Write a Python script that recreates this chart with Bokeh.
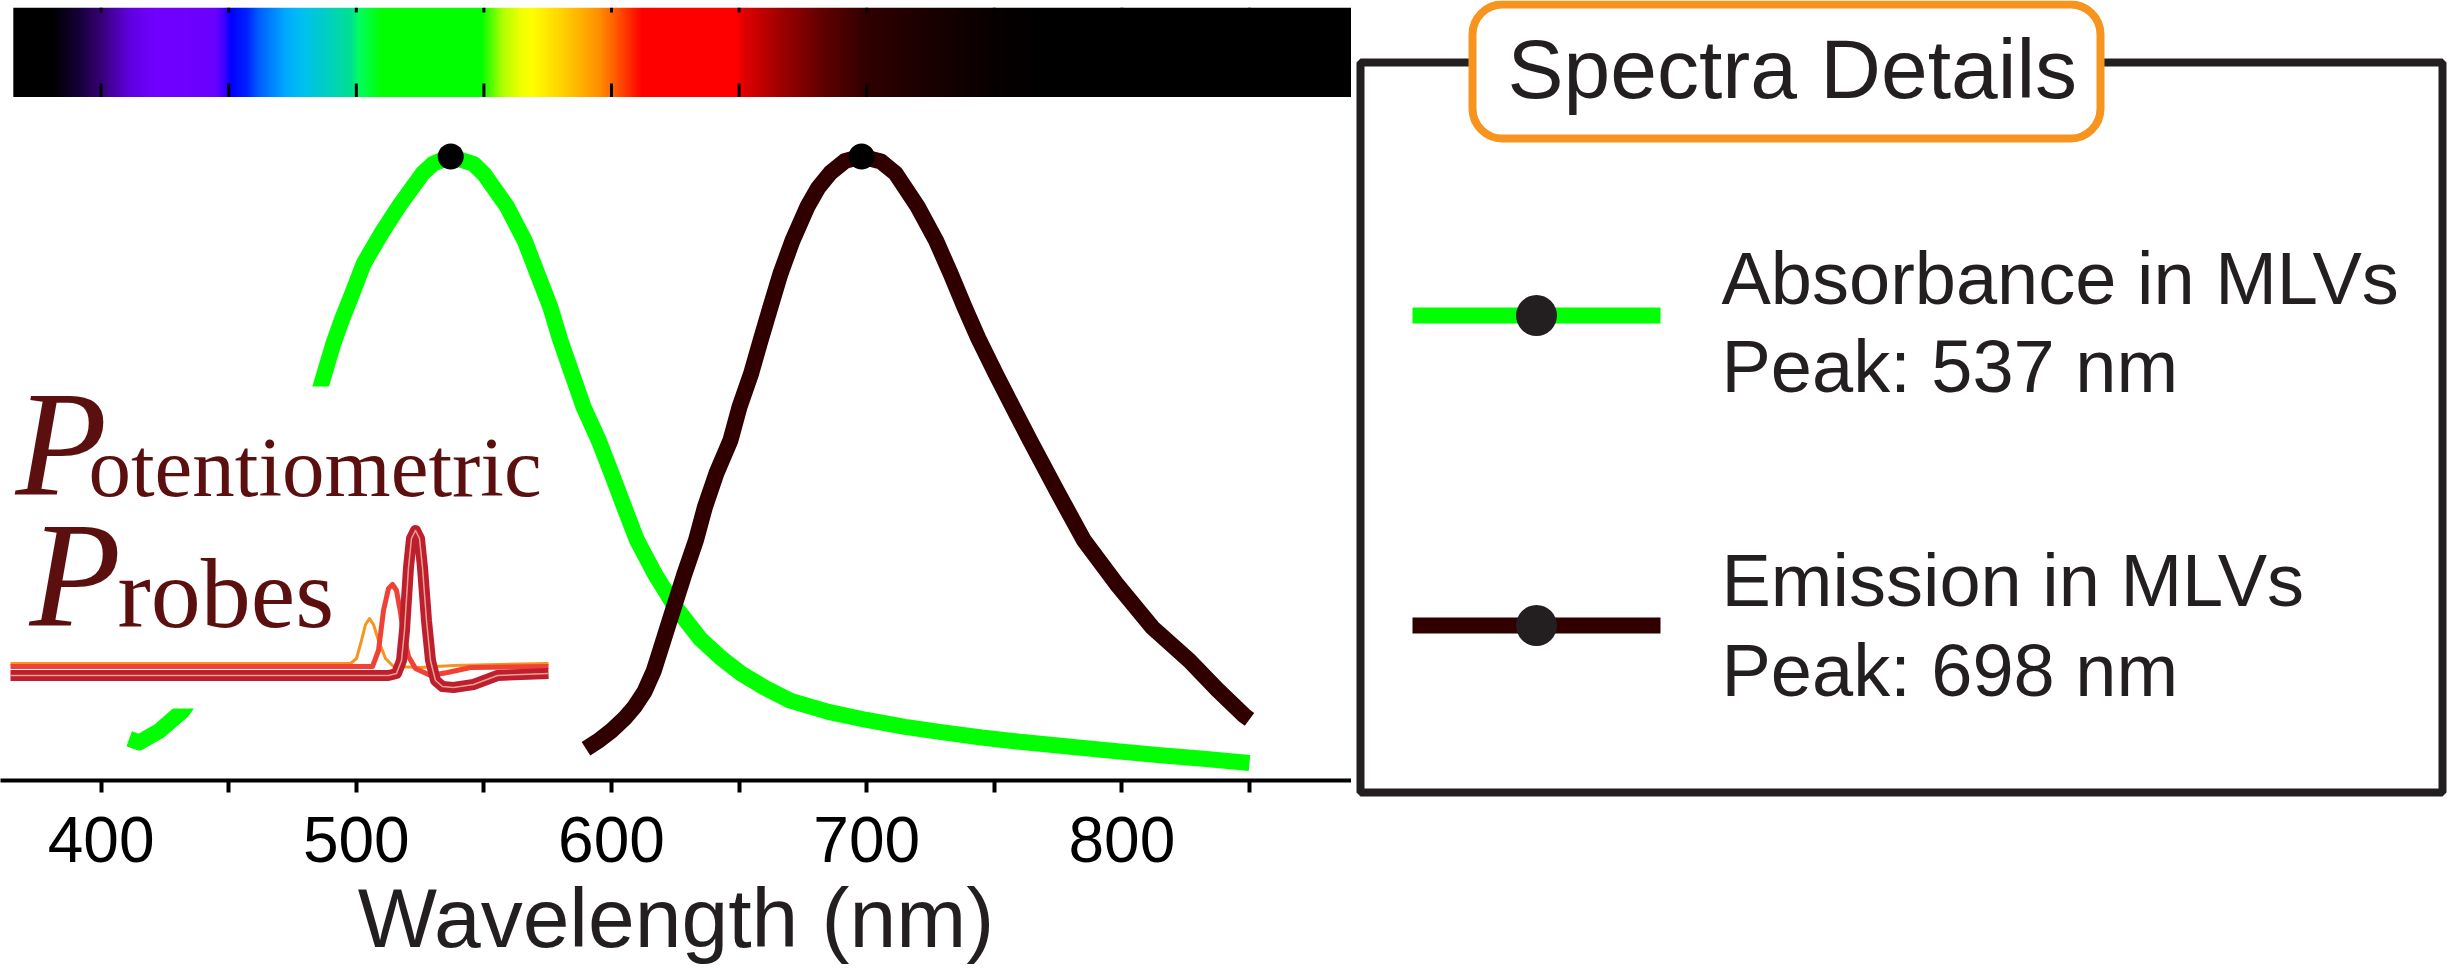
import numpy as np
from bokeh.plotting import figure
from bokeh.layouts import row, column
from bokeh.models import Range1d, FixedTicker, LinearAxis
from bokeh.core.properties import value
from bokeh.embed import file_html
from bokeh.resources import INLINE

# ---------------- data ----------------
ABS_WL = [411, 415, 423, 432, 440, 450, 460, 470, 480, 486, 491, 494.5, 498, 503, 510, 517,
          526, 530, 537, 546, 550, 559, 566, 571, 576, 580, 584.5, 589, 595, 600, 605, 610,
          617, 625, 635, 643, 651, 660, 670, 685, 700, 715, 730, 745, 760, 778, 795, 814,
          832, 850]
ABS_VAL = [0.067, 0.061, 0.080, 0.112, 0.16, 0.25, 0.35, 0.45, 0.56, 0.631, 0.700, 0.740,
           0.776, 0.829, 0.878, 0.922, 0.973, 0.988, 1.0, 0.988, 0.972, 0.920, 0.865, 0.812,
           0.759, 0.705, 0.652, 0.599, 0.545, 0.492, 0.438, 0.385, 0.331, 0.278, 0.226,
           0.196, 0.171, 0.149, 0.128, 0.110, 0.097, 0.086, 0.077, 0.069, 0.062, 0.055,
           0.048, 0.041, 0.035, 0.028]

EM_WL = [590, 595, 600, 605, 609, 613, 616.5, 619.6, 624, 628.5, 633.1, 636.6, 641.1, 646.6,
         650.2, 654.7, 658.4, 662.3, 666.2, 670.9, 676.8, 681, 685.8, 691.6, 698, 705.6,
         711.3, 719.9, 727.2, 732.9, 738.3, 743.8, 750.9, 757.8, 764, 774.4, 785.1, 797.7,
         812, 826.5, 837.3, 848, 850]
EM_VAL = [0.051, 0.064, 0.080, 0.099, 0.118, 0.143, 0.175, 0.215, 0.272, 0.330, 0.385,
          0.438, 0.492, 0.545, 0.599, 0.652, 0.705, 0.759, 0.812, 0.865, 0.920, 0.950,
          0.974, 0.993, 1.0, 0.992, 0.973, 0.920, 0.865, 0.812, 0.759, 0.708, 0.649, 0.594,
          0.545, 0.465, 0.385, 0.316, 0.245, 0.192, 0.146, 0.104, 0.098]

PEAK_WL = [537, 698]
PEAK_VAL = [1.0, 1.0]
SERIES_NAMES = ["Absorbance in MLVs", "Emission in MLVs"]
SERIES_COLORS = ["#00ff00", "#300000"]

MAJOR_TICKS = [400, 500, 600, 700, 800]
MINOR_TICKS = [450, 550, 650, 750, 850]
X_LABEL = "Wavelength (nm)"
TITLE = "Spectra Details"

# visible-spectrum colour stops of the top bar (wavelength nm, colour)
BAR_WL = [365, 381, 391, 401, 411, 421, 445, 448, 451, 457, 462, 472, 479, 489, 498, 501,
          510, 549, 557, 564, 569, 581, 595, 601, 608, 612, 649, 652, 666, 683, 700, 724,
          749, 768, 891]
BAR_COL = ["#000000", "#000000", "#150035", "#3a0080", "#6000e0", "#7000ff", "#6a00ff",
           "#4000ff", "#0000ff", "#0020ff", "#0060ff", "#00a8ff", "#00c0f0", "#00d0c0",
           "#00e090", "#00ff60", "#00ff00", "#00ff00", "#aaff00", "#eeff00", "#ffff00",
           "#ffd000", "#ff9000", "#ff6000", "#ff2000", "#ff0000", "#ff0000", "#e00000",
           "#a00000", "#600000", "#300000", "#1a0000", "#080000", "#000000", "#000000"]

# "Potentiometric Probes" logo (decoration, pixel coordinates of the logo art)
LOGO_WORDS = ["P", "otentiometric", "P", "robes"]
LOGO_ORANGE_X = [10, 350, 356, 361, 365, 369, 373, 378, 385, 393, 420, 453, 548]
LOGO_ORANGE_Y = [663, 663, 658, 640, 624, 618, 624, 640, 658, 666, 667, 665, 663]
LOGO_RED_X = [10, 372, 378, 383, 388, 392, 396, 400, 404, 408, 415, 430, 447, 470, 548]
LOGO_RED_Y = [666, 666, 650, 610, 588, 584, 590, 612, 638, 656, 668, 675, 672, 667, 666]
LOGO_DARK_X = [10, 388, 396, 401, 404, 408, 411, 415, 419, 422, 426, 430, 435, 442, 453,
               473, 497, 548]
LOGO_DARK_Y = [675, 675, 673, 660, 630, 567, 538, 530, 538, 567, 620, 660, 680, 686, 687,
               684, 675, 673]

# ---------------- layout constants ----------------
SANS = "Liberation Sans"
FONT = value(SANS)
SERIF = value("Liberation Serif")
TXT = "#231f20"
PXNM = 2.552
X0 = 400 - 100.6 / PXNM
FW = 1351
X1 = X0 + FW / PXNM
BAR_START = 365.6
BASE_SHIFT = 0.355   # text glyph vertical compensation (fraction of font size)
LW = 16

xr = Range1d(X0, X1)


def ticker():
    return FixedTicker(ticks=MAJOR_TICKS, minor_ticks=MINOR_TICKS)


def clean(fig):
    fig.outline_line_color = None
    fig.background_fill_color = "white"
    fig.border_fill_color = "white"
    fig.xgrid.grid_line_color = None
    fig.ygrid.grid_line_color = None


def ty(baseline, fs):
    return -(baseline - BASE_SHIFT * fs)


# ---------------- spectrum bar ----------------
bar = figure(frame_width=FW, frame_height=90, min_border_left=0, min_border_right=0,
             min_border_top=7, min_border_bottom=0, x_range=xr, y_range=Range1d(0, 1),
             output_backend="svg", toolbar_location=None,
             x_axis_location=None, y_axis_location=None)
clean(bar)
N = 1338
centers = BAR_START + (np.arange(N) + 0.5) * (X1 - BAR_START) / N
rgb = np.array([[int(c[i:i + 2], 16) for i in (1, 3, 5)] for c in BAR_COL], dtype=float)
img = np.zeros((1, N), dtype=np.uint32)
view = img.view(dtype=np.uint8).reshape((1, N, 4))
for k in range(3):
    view[0, :, k] = np.interp(centers, BAR_WL, rgb[:, k]).round().astype(np.uint8)
view[0, :, 3] = 255
bar.image_rgba(image=[img], x=BAR_START, y=0, dw=X1 - BAR_START, dh=1)
all_ticks = sorted(MAJOR_TICKS + MINOR_TICKS)
bar.segment(x0=all_ticks, x1=all_ticks, y0=[0] * len(all_ticks),
            y1=[14 / 90] * len(all_ticks), line_color="black", line_width=3)
bar.segment(x0=all_ticks, x1=all_ticks, y0=[1 - 5 / 90] * len(all_ticks),
            y1=[1] * len(all_ticks), line_color="black", line_width=3)

# ---------------- main plot ----------------
p = figure(frame_width=FW, frame_height=683, min_border_left=0, min_border_right=0,
           min_border_top=0, min_border_bottom=0, x_range=xr, y_range=Range1d(0, 683 / 624),
           output_backend="svg", toolbar_location=None,
           x_axis_location=None, y_axis_location=None)
clean(p)
p.extra_x_ranges = {"px": Range1d(0, FW)}
p.extra_y_ranges = {"px": Range1d(-780, -97)}

xa = LinearAxis(ticker=ticker(), axis_label=X_LABEL,
                axis_line_color="black", axis_line_width=4,
                major_tick_in=0, major_tick_out=12, minor_tick_in=0, minor_tick_out=12,
                major_tick_line_color="black", minor_tick_line_color="black",
                major_tick_line_width=4, minor_tick_line_width=4,
                major_label_text_font=SANS, major_label_text_font_size="64px",
                major_label_text_color="black", major_label_standoff=24,
                axis_label_text_font=SANS, axis_label_text_font_size="84px",
                axis_label_text_font_style="normal", axis_label_text_color=TXT,
                axis_label_standoff=6)
p.add_layout(xa, "below")

p.line(ABS_WL, ABS_VAL, line_color=SERIES_COLORS[0], line_width=LW, line_join="round")
p.line(EM_WL, EM_VAL, line_color=SERIES_COLORS[1], line_width=LW, line_join="round")

# logo (white panel that sits over the plot, as in the reference)
pk = dict(x_range_name="px", y_range_name="px")
p.quad(left=[0], right=[555], top=[-386], bottom=[-708], fill_color="white",
       line_color=None, **pk)
p.line(LOGO_ORANGE_X, [-v for v in LOGO_ORANGE_Y], line_color="#f7941d", line_width=3,
       line_join="round", **pk)
p.line(LOGO_RED_X, [-v for v in LOGO_RED_Y], line_color="#ef4136", line_width=5,
       line_join="round", **pk)
p.line(LOGO_DARK_X, [-v for v in LOGO_DARK_Y], line_color="#be1e2d", line_width=11,
       line_join="round", **pk)
p.line(LOGO_DARK_X, [-v for v in LOGO_DARK_Y], line_color="#e9a48f", line_width=1.5,
       line_join="round", **pk)
logo_x = [15, 88, 29, 117]
logo_base = [497, 497, 628, 628]
logo_size = [150, 85, 150, 100]
logo_style = ["italic", "normal", "italic", "normal"]
for w, lx, lb, ls, st in zip(LOGO_WORDS, logo_x, logo_base, logo_size, logo_style):
    p.text(x=[lx], y=[ty(lb, ls)], text=[w], text_font=SERIF,
           text_font_size=value("%dpx" % ls), text_font_style=value(st),
           text_color="#5b0f0f", text_baseline="alphabetic", text_align="left", **pk)

p.scatter(PEAK_WL, PEAK_VAL, size=26, marker="circle", fill_color="black", line_color=None)

# ---------------- legend panel ----------------
leg = figure(width=1096, height=975, min_border=0, x_range=Range1d(1351, 2447),
             y_range=Range1d(-975, 0), output_backend="svg", toolbar_location=None,
             x_axis_location=None, y_axis_location=None)
clean(leg)
leg.quad(left=[1360], right=[2442], top=[-62], bottom=[-792], fill_color=None,
         line_color=TXT, line_width=8)
leg.quad(left=[1472], right=[2100], top=[-4], bottom=[-138], fill_color="white",
         line_color="#f7941d", line_width=8, border_radius=30)
leg.text(x=[1507], y=[ty(98, 84)], text=[TITLE], text_font=FONT,
         text_font_size=value("84px"), text_color=TXT, text_baseline="alphabetic",
         text_align="left")

row_y = [315, 625]
row_base = [(304, 392), (606, 696)]
for i, (name, col, pkwl) in enumerate(zip(SERIES_NAMES, SERIES_COLORS, PEAK_WL)):
    yc = row_y[i]
    b1, b2 = row_base[i]
    leg.line([1412, 1660], [-yc, -yc], line_color=col, line_width=LW)
    leg.scatter([1536], [-yc], size=41, marker="circle", fill_color=TXT, line_color=None)
    leg.text(x=[1721, 1721], y=[ty(b1, 74), ty(b2, 74)],
             text=[name, "Peak: %d nm" % pkwl], text_font=FONT,
             text_font_size=value("74px"), text_color=TXT, text_baseline="alphabetic",
             text_align="left")

layout = row(column(bar, p), leg)
open("out.html", "w").write(file_html(layout, INLINE))
